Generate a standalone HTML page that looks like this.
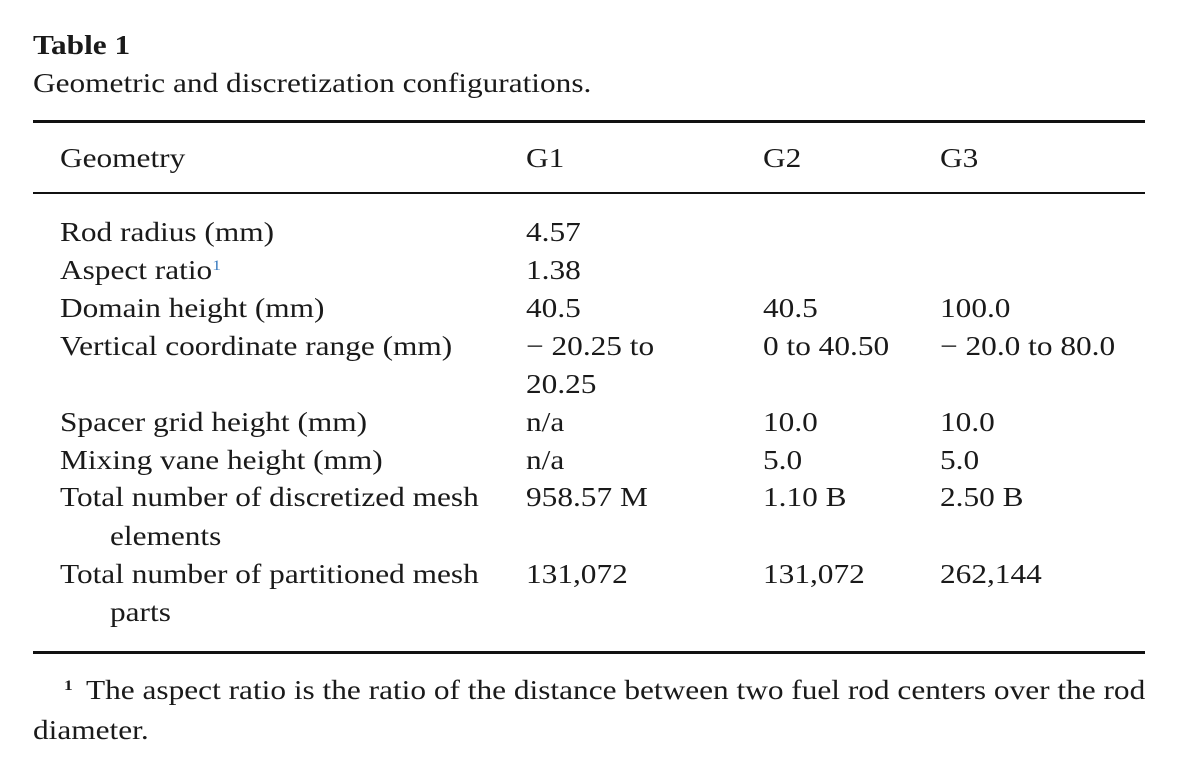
<!DOCTYPE html>
<html><head><meta charset="utf-8"><style>
html,body{margin:0;padding:0;background:#fff;}
body{width:1177px;height:766px;position:relative;overflow:hidden;font-family:"Liberation Serif",serif;color:#1a1a1a;font-size:27px;}
.t{position:absolute;line-height:38px;white-space:nowrap;transform:scaleX(1.16);transform-origin:0 0;}
.r{position:absolute;left:33px;width:1112px;background:#111;}
sup{font-size:15px;vertical-align:top;position:relative;top:-4px;}
</style></head><body>
<div class="t" style="left:33px;top:26px;font-weight:bold;">Table 1</div>
<div class="t" style="left:33px;top:64px;">Geometric and discretization configurations.</div>
<div class="r" style="top:120px;height:3px;"></div>
<div class="t" style="left:60px;top:139px;">Geometry</div>
<div class="t" style="left:526px;top:139px;">G1</div>
<div class="t" style="left:763px;top:139px;">G2</div>
<div class="t" style="left:940px;top:139px;">G3</div>
<div class="r" style="top:192px;height:2px;"></div>

<div class="t" style="left:60px;top:213px;">Rod radius (mm)</div>
<div class="t" style="left:526px;top:213px;">4.57</div>

<div class="t" style="left:60px;top:251px;">Aspect ratio<sup style="color:#3a7bbf">1</sup></div>
<div class="t" style="left:526px;top:251px;">1.38</div>

<div class="t" style="left:60px;top:289px;">Domain height (mm)</div>
<div class="t" style="left:526px;top:289px;">40.5</div>
<div class="t" style="left:763px;top:289px;">40.5</div>
<div class="t" style="left:940px;top:289px;">100.0</div>

<div class="t" style="left:60px;top:327px;">Vertical coordinate range (mm)</div>
<div class="t" style="left:526px;top:327px;">− 20.25 to</div>
<div class="t" style="left:763px;top:327px;">0 to 40.50</div>
<div class="t" style="left:940px;top:327px;">− 20.0 to 80.0</div>
<div class="t" style="left:526px;top:365px;">20.25</div>

<div class="t" style="left:60px;top:403px;">Spacer grid height (mm)</div>
<div class="t" style="left:526px;top:403px;">n/a</div>
<div class="t" style="left:763px;top:403px;">10.0</div>
<div class="t" style="left:940px;top:403px;">10.0</div>

<div class="t" style="left:60px;top:441px;">Mixing vane height (mm)</div>
<div class="t" style="left:526px;top:441px;">n/a</div>
<div class="t" style="left:763px;top:441px;">5.0</div>
<div class="t" style="left:940px;top:441px;">5.0</div>

<div class="t" style="left:60px;top:478px;">Total number of discretized mesh</div>
<div class="t" style="left:526px;top:478px;">958.57 M</div>
<div class="t" style="left:763px;top:478px;">1.10 B</div>
<div class="t" style="left:940px;top:478px;">2.50 B</div>
<div class="t" style="left:110px;top:517px;">elements</div>

<div class="t" style="left:60px;top:555px;">Total number of partitioned mesh</div>
<div class="t" style="left:526px;top:555px;">131,072</div>
<div class="t" style="left:763px;top:555px;">131,072</div>
<div class="t" style="left:940px;top:555px;">262,144</div>
<div class="t" style="left:110px;top:593px;">parts</div>

<div class="r" style="top:651px;height:3px;"></div>
<div class="t" style="left:64px;top:671px;font-weight:bold;"><sup>1</sup></div>
<div class="t" style="left:86px;top:671px;">The aspect ratio is the ratio of the distance between two fuel rod centers over the rod</div>
<div class="t" style="left:33px;top:711px;">diameter.</div>
</body></html>
